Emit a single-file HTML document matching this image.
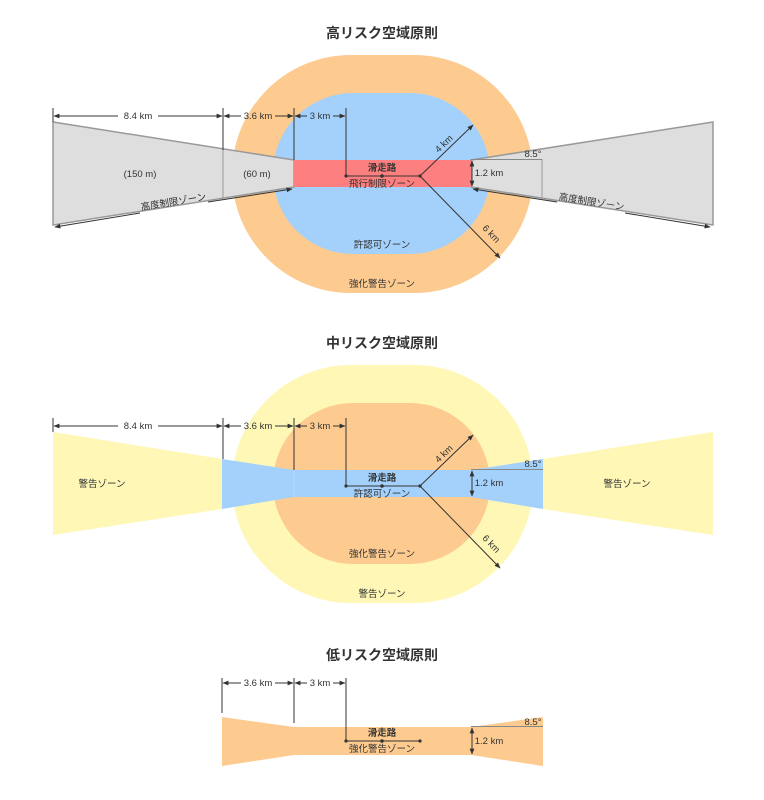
<!DOCTYPE html>
<html><head><meta charset="utf-8"><style>
html,body{margin:0;padding:0;background:#fff;}
svg{display:block;}
text{font-family:"Liberation Sans","Noto Sans CJK JP",sans-serif;fill:#333;}
.t{font-size:14px;font-weight:bold;text-anchor:middle;}
.l{font-size:9.5px;text-anchor:middle;}
.d{font-size:9.5px;text-anchor:middle;}
.ln{stroke:#333;stroke-width:1;fill:none;}
.gl{stroke:#888;stroke-width:1;fill:none;}
</style></head><body>
<svg width="764" height="800" viewBox="0 0 764 800" xmlns="http://www.w3.org/2000/svg">
<defs>
<marker id="a" viewBox="0 0 10 10" refX="9" refY="5" markerWidth="6" markerHeight="6" orient="auto-start-reverse"><path d="M0,1 L10,5 L0,9 z" fill="#333"/></marker>
<marker id="dt" viewBox="0 0 10 10" refX="5" refY="5" markerWidth="4" markerHeight="4"><circle cx="5" cy="5" r="4" fill="#333"/></marker>
</defs>

<!-- ===== TOP ===== -->
<text class="t" x="382" y="38">高リスク空域原則</text>
<rect x="232" y="55" width="301" height="238" rx="119" fill="#fdcb90"/>
<rect x="273" y="93" width="217" height="161" rx="80" fill="#a3d1fb"/>
<polygon points="53,122 294,160 294,187 53,225" fill="#dedede" stroke="#999" stroke-width="1.5"/>
<line x1="223" y1="108" x2="223" y2="198" stroke="#999" stroke-width="1"/>
<polygon points="713,122 471,160 471,187 713,225" fill="#dedede" stroke="#999" stroke-width="1.5"/>
<line x1="542" y1="159" x2="542" y2="198" stroke="#999" stroke-width="1"/>
<rect x="294" y="160" width="177" height="27" fill="#fd7f7f"/>
<text class="l" x="140" y="177">(150 m)</text>
<text class="l" x="257" y="177">(60 m)</text>
<line class="ln" x1="55" y1="227" x2="140" y2="213" marker-start="url(#a)"/>
<line class="ln" x1="208" y1="202" x2="292" y2="189" marker-end="url(#a)"/>
<text class="l" x="174" y="205" transform="rotate(-9.3 174 205)">高度制限ゾーン</text>
<line class="ln" x1="473" y1="189" x2="557" y2="202" marker-start="url(#a)"/>
<line class="ln" x1="625" y1="213" x2="710" y2="227" marker-end="url(#a)"/>
<text class="l" x="591" y="205" transform="rotate(9.3 591 205)">高度制限ゾーン</text>
<line class="ln" x1="53" y1="108" x2="53" y2="122"/>
<line class="ln" x1="223" y1="108" x2="223" y2="150"/>
<line class="ln" x1="294" y1="108" x2="294" y2="160"/>
<line class="ln" x1="346" y1="108" x2="346" y2="176"/>
<line class="ln" x1="54" y1="116" x2="118" y2="116" marker-start="url(#a)"/>
<line class="ln" x1="158" y1="116" x2="222" y2="116" marker-end="url(#a)"/>
<text class="d" x="138" y="119">8.4 km</text>
<line class="ln" x1="224" y1="116" x2="241" y2="116" marker-start="url(#a)"/>
<line class="ln" x1="275" y1="116" x2="293" y2="116" marker-end="url(#a)"/>
<text class="d" x="258" y="119">3.6 km</text>
<line class="ln" x1="295" y1="116" x2="307" y2="116" marker-start="url(#a)"/>
<line class="ln" x1="333" y1="116" x2="345" y2="116" marker-end="url(#a)"/>
<text class="d" x="320" y="119">3 km</text>
<line class="ln" x1="346" y1="176" x2="420" y2="176" marker-start="url(#dt)" marker-end="url(#dt)"/>
<circle cx="382" cy="176" r="1.8" fill="#333"/>
<text class="l" x="382" y="171" font-weight="bold">滑走路</text>
<text class="l" x="382" y="187">飛行制限ゾーン</text>
<line class="ln" x1="420" y1="176" x2="473" y2="125" marker-end="url(#a)"/>
<text class="l" x="446" y="146" transform="rotate(-44 446 146)">4 km</text>
<line class="ln" x1="420" y1="176" x2="500" y2="258" marker-end="url(#a)"/>
<text class="l" x="489" y="236" transform="rotate(46 489 236)">6 km</text>
<line class="ln" x1="472" y1="161" x2="472" y2="186" marker-start="url(#a)" marker-end="url(#a)"/>
<text class="l" x="489" y="176">1.2 km</text>
<line class="gl" x1="471" y1="159.5" x2="542" y2="159.5"/>
<text class="l" x="533" y="157">8.5°</text>
<text class="l" x="382" y="248">許認可ゾーン</text>
<text class="l" x="382" y="287">強化警告ゾーン</text>

<!-- ===== MIDDLE ===== -->
<text class="t" x="382" y="348">中リスク空域原則</text>
<rect x="232" y="365" width="301" height="238" rx="119" fill="#fef7b6"/>
<rect x="273" y="403" width="217" height="161" rx="80" fill="#fdcb90"/>
<polygon points="53,432 222,459 222,509 53,535" fill="#fef7b6"/>
<polygon points="713,432 543,459 543,509 713,535" fill="#fef7b6"/>
<polygon points="222,459 294,470 471,470 543,459 543,509 471,497 294,497 222,509" fill="#a3d1fb"/>
<line x1="294" y1="470" x2="294" y2="497" stroke="#b8dcfc" stroke-width="1"/>
<text class="l" x="102" y="487">警告ゾーン</text>
<text class="l" x="627" y="487">警告ゾーン</text>
<line class="ln" x1="53" y1="418" x2="53" y2="432"/>
<line class="ln" x1="223" y1="418" x2="223" y2="459"/>
<line class="ln" x1="294" y1="418" x2="294" y2="470"/>
<line class="ln" x1="346" y1="418" x2="346" y2="486"/>
<line class="ln" x1="54" y1="426" x2="118" y2="426" marker-start="url(#a)"/>
<line class="ln" x1="158" y1="426" x2="222" y2="426" marker-end="url(#a)"/>
<text class="d" x="138" y="429">8.4 km</text>
<line class="ln" x1="224" y1="426" x2="241" y2="426" marker-start="url(#a)"/>
<line class="ln" x1="275" y1="426" x2="293" y2="426" marker-end="url(#a)"/>
<text class="d" x="258" y="429">3.6 km</text>
<line class="ln" x1="295" y1="426" x2="307" y2="426" marker-start="url(#a)"/>
<line class="ln" x1="333" y1="426" x2="345" y2="426" marker-end="url(#a)"/>
<text class="d" x="320" y="429">3 km</text>
<line class="ln" x1="346" y1="486" x2="420" y2="486" marker-start="url(#dt)" marker-end="url(#dt)"/>
<circle cx="382" cy="486" r="1.8" fill="#333"/>
<text class="l" x="382" y="481" font-weight="bold">滑走路</text>
<text class="l" x="382" y="497">許認可ゾーン</text>
<line class="ln" x1="420" y1="486" x2="473" y2="435" marker-end="url(#a)"/>
<text class="l" x="446" y="456" transform="rotate(-44 446 456)">4 km</text>
<line class="ln" x1="420" y1="486" x2="500" y2="568" marker-end="url(#a)"/>
<text class="l" x="489" y="546" transform="rotate(46 489 546)">6 km</text>
<line class="ln" x1="472" y1="471" x2="472" y2="496" marker-start="url(#a)" marker-end="url(#a)"/>
<text class="l" x="489" y="486">1.2 km</text>
<line class="gl" x1="471" y1="469.5" x2="543" y2="469.5"/>
<text class="l" x="533" y="467">8.5°</text>
<text class="l" x="382" y="557">強化警告ゾーン</text>
<text class="l" x="382" y="597">警告ゾーン</text>

<!-- ===== BOTTOM ===== -->
<text class="t" x="382" y="660">低リスク空域原則</text>
<polygon points="222,717 294,727 471,727 543,717 543,766 471,755 294,755 222,766" fill="#fdcb90"/>
<line class="ln" x1="222" y1="678" x2="222" y2="713"/>
<line class="ln" x1="294" y1="678" x2="294" y2="723"/>
<line class="ln" x1="346" y1="678" x2="346" y2="741"/>
<line class="ln" x1="223" y1="683" x2="241" y2="683" marker-start="url(#a)"/>
<line class="ln" x1="275" y1="683" x2="293" y2="683" marker-end="url(#a)"/>
<text class="d" x="258" y="686">3.6 km</text>
<line class="ln" x1="295" y1="683" x2="307" y2="683" marker-start="url(#a)"/>
<line class="ln" x1="333" y1="683" x2="345" y2="683" marker-end="url(#a)"/>
<text class="d" x="320" y="686">3 km</text>
<line class="ln" x1="346" y1="741" x2="420" y2="741" marker-start="url(#dt)" marker-end="url(#dt)"/>
<circle cx="382" cy="741" r="1.8" fill="#333"/>
<text class="l" x="382" y="736" font-weight="bold">滑走路</text>
<text class="l" x="382" y="752">強化警告ゾーン</text>
<line class="ln" x1="472" y1="728" x2="472" y2="754" marker-start="url(#a)" marker-end="url(#a)"/>
<text class="l" x="489" y="744">1.2 km</text>
<line class="gl" x1="471" y1="726.5" x2="543" y2="726.5"/>
<text class="l" x="533" y="725">8.5°</text>
</svg>
</body></html>
